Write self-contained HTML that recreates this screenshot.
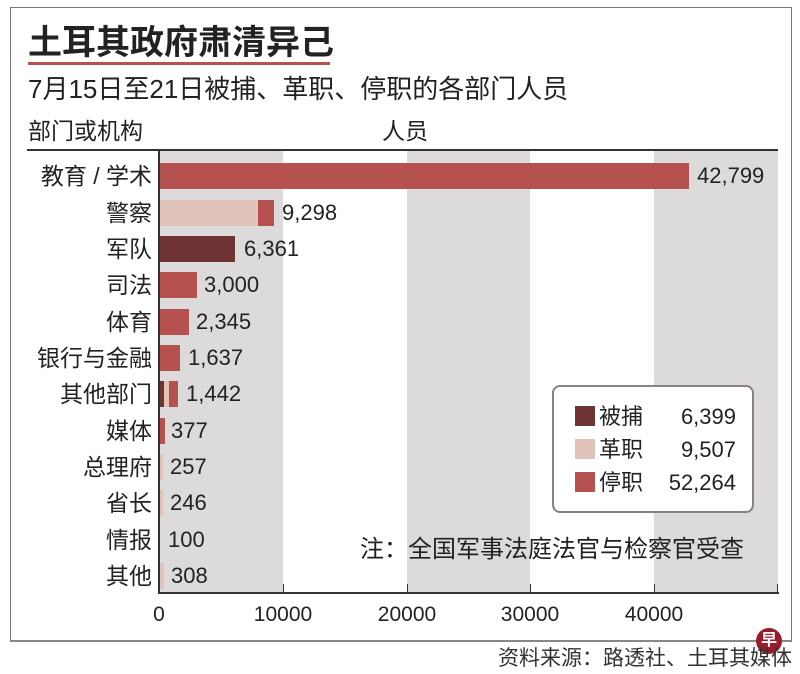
<!DOCTYPE html>
<html><head><meta charset="utf-8"><style>
body{margin:0;width:800px;height:674px;background:#fff;position:relative;overflow:hidden;font-family:"Liberation Sans","Noto Sans CJK SC",sans-serif;color:#222}
.a{position:absolute}
.lab{position:absolute;right:648px;font-size:23px;line-height:26px;white-space:nowrap}
.val{position:absolute;font-size:22px;line-height:26px}
.bar{position:absolute;height:26px}
.tk{position:absolute;top:603px;font-size:21px;width:100px;text-align:center}
</style></head><body>
<div class="a" style="left:10px;top:7px;width:780px;height:632px;border:1px solid #777;border-bottom:2px solid #888"></div>
<div class="a" style="left:28px;top:18px;font-size:34px;font-weight:bold;line-height:44px;font-family:'Noto Sans CJK SC',sans-serif">土耳其政府肃清异己</div>
<div class="a" style="left:28px;top:62px;width:302px;height:3px;background:#b5524f"></div>
<div class="a" style="left:28px;top:72px;font-size:26px;line-height:34px">7月15日至21日被捕、革职、停职的各部门人员</div>
<div class="a" style="left:28px;top:116px;font-size:23px;line-height:30px">部门或机构</div>
<div class="a" style="left:382px;top:116px;font-size:23px;line-height:30px">人员</div>
<div class="a" style="left:27px;top:149px;width:751px;height:2px;background:#333"></div>
<div class="a" style="left:160px;top:151px;width:123px;height:442px;background:#dcdada"></div>
<div class="a" style="left:407px;top:151px;width:123px;height:442px;background:#dcdada"></div>
<div class="a" style="left:654px;top:151px;width:124px;height:442px;background:#dcdada"></div>
<div class="a" style="left:158px;top:151px;width:2px;height:443px;background:#333"></div>
<div class="a" style="left:158px;top:592px;width:621px;height:2px;background:#333"></div>
<div class="a" style="left:283px;top:584px;width:1px;height:8px;background:#333"></div>
<div class="a" style="left:407px;top:584px;width:1px;height:8px;background:#333"></div>
<div class="a" style="left:530px;top:584px;width:1px;height:8px;background:#333"></div>
<div class="a" style="left:654px;top:584px;width:1px;height:8px;background:#333"></div>
<div class="a" style="left:777px;top:584px;width:1px;height:8px;background:#333"></div>
<div class="tk" style="left:109px">0</div>
<div class="tk" style="left:233px">10000</div>
<div class="tk" style="left:357px">20000</div>
<div class="tk" style="left:480px">30000</div>
<div class="tk" style="left:604px">40000</div>

<div class="lab" style="top:163px">教育 / 学术</div>
<div class="bar" style="left:160px;top:163px;width:529px;background:#b5524f"></div>
<div class="val" style="left:697px;top:163px">42,799</div>

<div class="lab" style="top:200px">警察</div>
<div class="bar" style="left:160px;top:200px;width:98px;background:#dfc3b9"></div>
<div class="bar" style="left:258px;top:200px;width:16px;background:#b5524f"></div>
<div class="val" style="left:282px;top:200px">9,298</div>

<div class="lab" style="top:236px">军队</div>
<div class="bar" style="left:160px;top:236px;width:75px;background:#6e3333"></div>
<div class="val" style="left:244px;top:236px">6,361</div>

<div class="lab" style="top:272px">司法</div>
<div class="bar" style="left:160px;top:272px;width:37px;background:#b5524f"></div>
<div class="val" style="left:204px;top:272px">3,000</div>

<div class="lab" style="top:309px">体育</div>
<div class="bar" style="left:160px;top:309px;width:29px;background:#b5524f"></div>
<div class="val" style="left:196px;top:309px">2,345</div>

<div class="lab" style="top:345px">银行与金融</div>
<div class="bar" style="left:160px;top:345px;width:20px;background:#b5524f"></div>
<div class="val" style="left:188px;top:345px">1,637</div>

<div class="lab" style="top:381px">其他部门</div>
<div class="bar" style="left:160px;top:381px;width:4px;background:#6e3333"></div>
<div class="bar" style="left:164px;top:381px;width:5px;background:#dfc3b9"></div>
<div class="bar" style="left:169px;top:381px;width:9px;background:#b5524f"></div>
<div class="val" style="left:186px;top:381px">1,442</div>

<div class="lab" style="top:418px">媒体</div>
<div class="bar" style="left:160px;top:418px;width:5px;background:#b5524f"></div>
<div class="val" style="left:171px;top:418px">377</div>

<div class="lab" style="top:454px">总理府</div>
<div class="bar" style="left:160px;top:454px;width:3px;background:#dfc3b9"></div>
<div class="val" style="left:170px;top:454px">257</div>

<div class="lab" style="top:490px">省长</div>
<div class="bar" style="left:160px;top:490px;width:3px;background:#dfc3b9"></div>
<div class="val" style="left:170px;top:490px">246</div>

<div class="lab" style="top:527px">情报</div>
<div class="val" style="left:168px;top:527px">100</div>

<div class="lab" style="top:563px">其他</div>
<div class="bar" style="left:160px;top:563px;width:4px;background:#dfc3b9"></div>
<div class="val" style="left:171px;top:563px">308</div>

<div class="a" style="left:552px;top:385px;width:198px;height:124px;border:2px solid #8a8282;border-radius:8px;background:#fff"></div>
<div class="a" style="left:575px;top:406px;width:20px;height:20px;background:#6e3333"></div>
<div class="a" style="left:575px;top:439px;width:20px;height:20px;background:#dfc3b9"></div>
<div class="a" style="left:575px;top:472px;width:20px;height:20px;background:#b5524f"></div>
<div class="a" style="left:599px;top:400px;font-size:22px;line-height:33px">被捕<br>革职<br>停职</div>
<div class="a" style="left:650px;top:400px;width:86px;text-align:right;font-size:22px;line-height:33px">6,399<br>9,507<br>52,264</div>

<div class="a" style="left:360px;top:535px;font-size:24px;line-height:30px">注：全国军事法庭法官与检察官受查</div>
<div class="a" style="left:756px;top:628px;width:26px;height:26px;border-radius:50%;background:#9a1c2c;color:#fff;font-size:16px;line-height:26px;text-align:center;font-weight:bold">早</div>
<div class="a" style="right:8px;top:645px;font-size:21px;line-height:28px;color:#333">资料来源：路透社、土耳其媒体</div>
</body></html>
